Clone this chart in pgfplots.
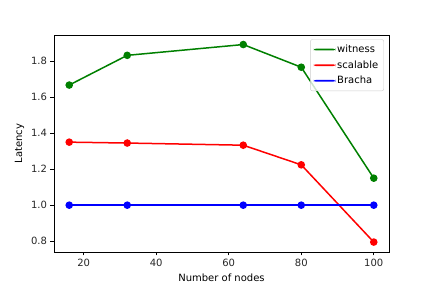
\documentclass[border=0pt]{standalone}
\usepackage{pgfplots}
\pgfplotsset{compat=1.18}
\usepackage{fontspec}
\setmainfont{DejaVu Sans}
\definecolor{mgreen}{RGB}{0,128,0}
\begin{document}
\begin{tikzpicture}
\useasboundingbox (-54pt,-36pt) rectangle (378pt,252pt);
\begin{axis}[
  at={(0,0)}, anchor=south west,
  scale only axis, width=335pt, height=217pt,
  xmin=11.8, xmax=104.2, ymin=0.74, ymax=1.945,
  xtick={20,40,60,80,100},
  ytick={0.8,1.0,1.2,1.4,1.6,1.8},
  yticklabel style={/pgf/number format/.cd,fixed,fixed zerofill,precision=1},
  /pgf/number format/assume math mode=true,
  tick label style={font=\fontsize{10}{12}\selectfont, text=black!85},
  label style={font=\fontsize{10}{12}\selectfont},
  xlabel={Number of nodes}, ylabel={Latency},
  tick align=outside, tick pos=left,
  major tick length=3.5pt,
  axis line style={line width=0.8pt},
  every tick/.style={black, line width=0.8pt},
  legend cell align=left,
  legend style={font=\fontsize{10}{12}\selectfont, draw=black!20, rounded corners=2pt, fill=white, fill opacity=0.8, text opacity=1, at={(0.985,0.98)}, anchor=north east, row sep=2.5pt, inner sep=3.5pt},
  legend image code/.code={\fill[#1, mark=none, draw=none, fill opacity=1] (0cm,-0.9pt) rectangle (0.75cm,0.9pt);},
]
\addplot[mgreen, line width=1.5pt, mark=*, mark size=3pt] coordinates {(16,1.667) (32,1.832) (64,1.892) (80,1.766) (100,1.150)};
\addlegendentry{witness}
\addplot[red, line width=1.5pt, mark=*, mark size=3pt] coordinates {(16,1.350) (32,1.345) (64,1.333) (80,1.224) (100,0.795)};
\addlegendentry{scalable}
\addplot[blue, line width=1.5pt, mark=*, mark size=3pt] coordinates {(16,1.0) (32,1.0) (64,1.0) (80,1.0) (100,1.0)};
\addlegendentry{Bracha}
\end{axis}
\end{tikzpicture}
\end{document}
